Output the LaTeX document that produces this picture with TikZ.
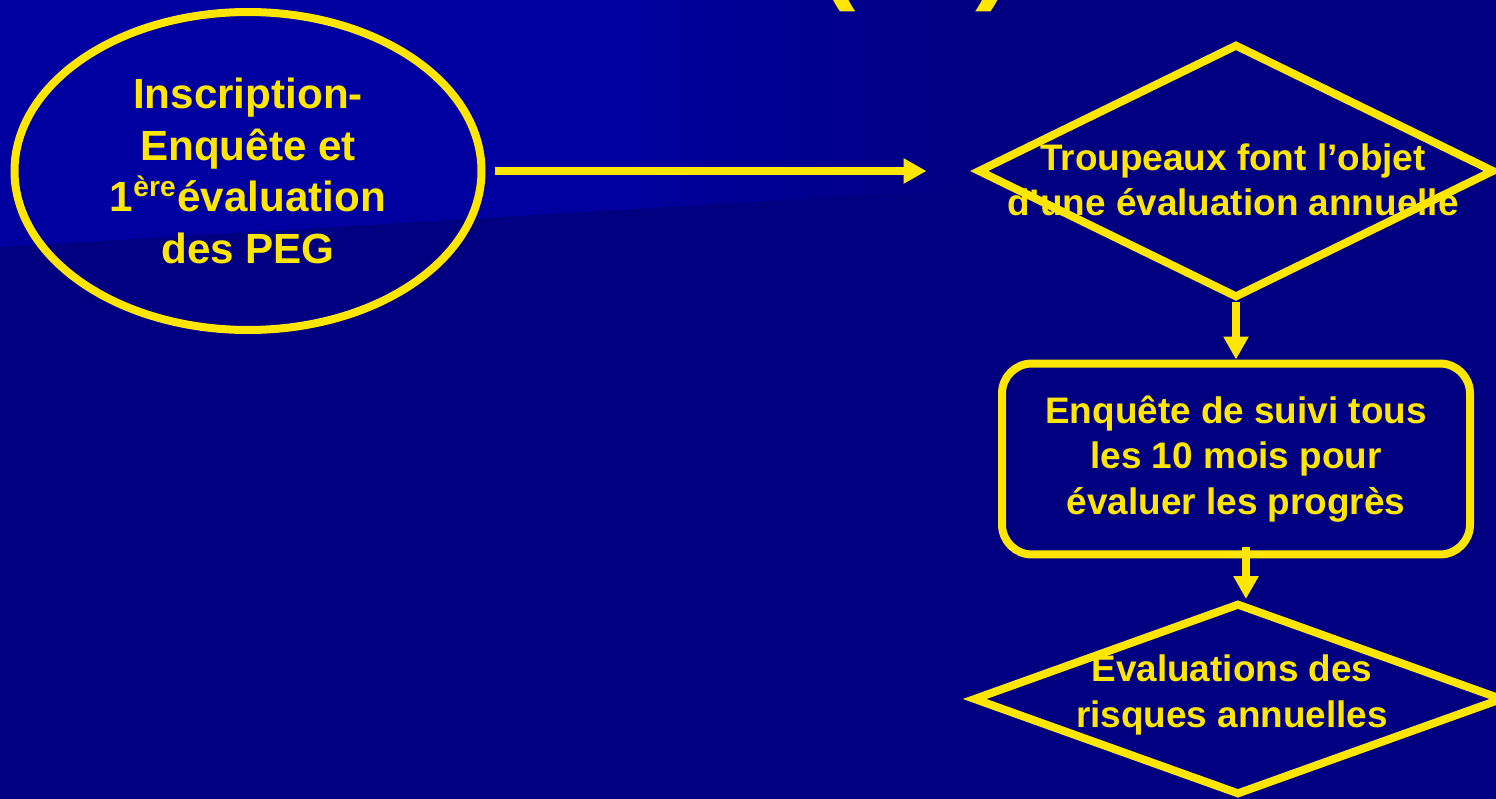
\documentclass[tikz,border=0pt]{standalone}
\usepackage{fontspec}
\setmainfont{Liberation Sans}
\usetikzlibrary{positioning,
                arrows.meta,                % arrow tips
                shapes.geometric}           % ellipse and diamond

\definecolor{fond}{RGB}{0,0,128}
\definecolor{fondclair}{RGB}{0,0,160}
\definecolor{jaune}{RGB}{255,230,0}

\tikzset{
  etape/.style={draw=jaune, line width=0.8mm, inner sep=0pt},
  texte/.style={text=jaune, align=center, font=\bfseries\fontsize{10.5}{12.9}\selectfont},
  fleche/.style={jaune, line width=0.8mm, -{Triangle[length=2.3mm, width=2.4mm]}},
}

\begin{document}
\begin{tikzpicture}[x=0.1mm, y=-0.1mm]
    \clip (0,0) rectangle (1496,799);
    % fond
    \fill[fond] (0,0) rectangle (1496,799);
    \fill[fondclair] (0,0) -- (600,0) -- (600,211) -- (0,247) -- cycle;
    \shade[left color=fondclair, right color=fond] (600,0) -- (1000,0) -- (1000,187) -- (600,211) -- cycle;

    % titre (coupe en haut)
    \node[text=jaune, font=\bfseries\fontsize{32}{36}\selectfont, anchor=base] (titre) at (916,-11) {(\hspace{12mm})};

    \node[etape, ellipse, texte, font=\bfseries\fontsize{12}{14.7}\selectfont,
          minimum width=46.7mm, minimum height=31.8mm] (inscription) at (248,171)
          {Inscription-\\Enquête et\\1\textsuperscript{ère}évaluation\\des PEG};

    \node[etape, diamond, minimum width=51.7mm, minimum height=25.4mm] (troupeaux) at (1236,171) {};
    \node[texte] (troupeauxtxt) at (1233,180) {Troupeaux font l’objet\\d’une évaluation annuelle};

    \node[etape, rounded corners=3mm, texte, minimum width=46.8mm, minimum height=19.1mm] (suivi) at (1236,459)
          {Enquête de suivi tous\\les 10 mois pour\\évaluer les progrès};

    \node[etape, diamond, minimum width=53mm, minimum height=19.2mm] (risques) at (1238,699) {};
    \node[texte] (risquestxt) at (1232,692) {Évaluations des\\risques annuelles};

    \draw[fleche, shorten <=0.9mm, shorten >=4.7mm] (inscription.east) -- (troupeaux.west);
    \draw[fleche] (troupeaux.south) -- (suivi.north);
    \draw[fleche] ([xshift=1mm, yshift=1.1mm]suivi.south) -- ([xshift=1mm]suivi.south |- risques.north);
\end{tikzpicture}
\end{document}
